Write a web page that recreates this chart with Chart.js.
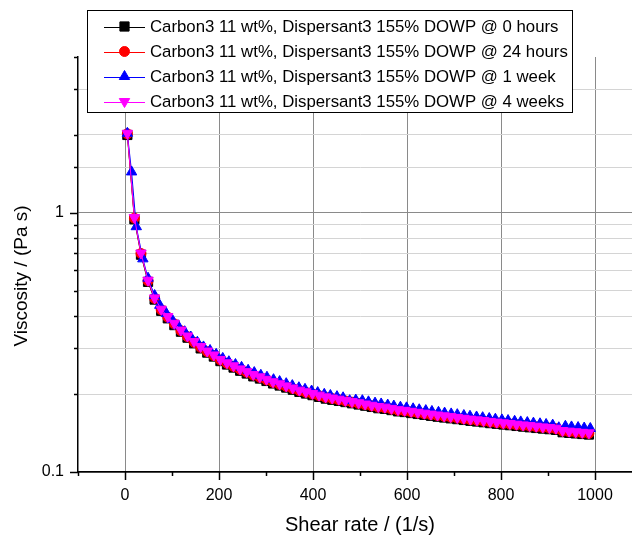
<!DOCTYPE html>
<html>
<head>
<meta charset="utf-8">
<script src="https://cdn.jsdelivr.net/npm/chart.js"></script>
<style>
  html, body { margin: 0; padding: 0; background: #fff; overflow: hidden; }
  #wrap { width: 642px; height: 538px; }
</style>
</head>
<body>
<div id="wrap"><canvas id="c" width="642" height="538" style="width:642px;height:538px"></canvas></div>
<script>
// ---------- data ----------
const seriesLabels = [
  "Carbon3 11 wt%, Dispersant3 155% DOWP @ 0 hours",
  "Carbon3 11 wt%, Dispersant3 155% DOWP @ 24 hours",
  "Carbon3 11 wt%, Dispersant3 155% DOWP @ 1 week",
  "Carbon3 11 wt%, Dispersant3 155% DOWP @ 4 weeks"
];

// shear rates (1/s) for the 0 h, 24 h and 4 week series
const shearRate = [5, 20, 34, 49, 63, 77, 91, 105, 119, 133,
  147, 161, 175, 189, 203, 217, 231, 245, 259, 273,
  287, 301, 315, 329, 343, 357, 371, 385, 399, 413,
  427, 441, 455, 469, 483, 497, 511, 525, 539, 553,
  567, 581, 595, 609, 623, 637, 651, 665, 679, 693,
  707, 721, 735, 749, 763, 777, 791, 805, 819, 833,
  847, 861, 875, 889, 903, 917, 931, 945, 959, 973, 987];

// shear rates (1/s) for the 1 week series
const shearRateWeek1 = [5, 14, 24, 38, 49, 63, 74, 88, 100, 113,
  127, 140, 154, 167, 181, 194, 208, 221, 235, 248,
  262, 275, 289, 302, 316, 329, 343, 356, 370, 383,
  397, 410, 424, 437, 451, 464, 478, 491, 505, 518,
  532, 545, 559, 572, 586, 599, 613, 626, 640, 653,
  667, 680, 694, 707, 721, 734, 748, 761, 775, 788,
  802, 815, 829, 842, 856, 869, 883, 896, 910, 923,
  937, 950, 964, 977, 990];

// viscosity (Pa s)
const visc0h = [2.00, 0.945, 0.690, 0.542, 0.463, 0.419, 0.392, 0.369, 0.348, 0.330,
  0.314, 0.300, 0.289, 0.279, 0.268, 0.260, 0.253, 0.246, 0.240, 0.234,
  0.2295, 0.2246, 0.2197, 0.2157, 0.2118, 0.2078, 0.2039, 0.2009, 0.198, 0.195,
  0.192, 0.190, 0.1881, 0.1862, 0.1842, 0.1822, 0.1803, 0.1783, 0.1763, 0.1753,
  0.1734, 0.1714, 0.1704, 0.1689, 0.1675, 0.1662, 0.1648, 0.1635, 0.1623, 0.1611,
  0.160, 0.1588, 0.1576, 0.1566, 0.1556, 0.1544, 0.1535, 0.1525, 0.1516, 0.1506,
  0.1497, 0.1488, 0.1479, 0.1471, 0.1463, 0.1454, 0.1424, 0.1416, 0.1409, 0.1402, 0.1395];

const visc24h = [2.02, 0.955, 0.697, 0.547, 0.468, 0.423, 0.396, 0.373, 0.351, 0.333,
  0.317, 0.303, 0.2915, 0.2815, 0.2706, 0.2627, 0.2557, 0.2488, 0.2428, 0.2368,
  0.2318, 0.2269, 0.2219, 0.2179, 0.2139, 0.2099, 0.206, 0.203, 0.200, 0.197,
  0.194, 0.192, 0.190, 0.188, 0.186, 0.184, 0.182, 0.180, 0.178, 0.177,
  0.175, 0.173, 0.1721, 0.1706, 0.1692, 0.1679, 0.1665, 0.1652, 0.164, 0.1628,
  0.1616, 0.1604, 0.1592, 0.1582, 0.1572, 0.156, 0.155, 0.154, 0.1531, 0.1521,
  0.1512, 0.1503, 0.1494, 0.1486, 0.1478, 0.1469, 0.1439, 0.1431, 0.1423, 0.1416, 0.1409];

const visc1w = [2.03, 1.44, 0.885, 0.665, 0.56, 0.48, 0.44, 0.409, 0.388, 0.367,
  0.348, 0.332, 0.317, 0.304, 0.2945, 0.2846, 0.2745, 0.2665, 0.260, 0.2535,
  0.247, 0.242, 0.2363, 0.2322, 0.2272, 0.2234, 0.2193, 0.2155, 0.2115, 0.2085,
  0.2054, 0.2026, 0.1995, 0.1974, 0.1954, 0.1934, 0.1885, 0.1895, 0.1885, 0.1866,
  0.1845, 0.1831, 0.1813, 0.1797, 0.1779, 0.1769, 0.1754, 0.1739, 0.1726, 0.1713,
  0.170, 0.1688, 0.1676, 0.1665, 0.1652, 0.1641, 0.1631, 0.1621, 0.1609, 0.1599,
  0.1589, 0.158, 0.157, 0.1561, 0.1552, 0.1544, 0.1535, 0.1526, 0.1517, 0.1482,
  0.1502, 0.1493, 0.1485, 0.1478, 0.1472];

const visc4w = [2.03, 0.96, 0.70, 0.55, 0.47, 0.425, 0.398, 0.375, 0.353, 0.335,
  0.319, 0.305, 0.293, 0.283, 0.272, 0.264, 0.257, 0.250, 0.244, 0.238,
  0.233, 0.228, 0.223, 0.219, 0.215, 0.211, 0.207, 0.204, 0.201, 0.198,
  0.195, 0.193, 0.191, 0.189, 0.187, 0.185, 0.183, 0.181, 0.179, 0.178,
  0.176, 0.174, 0.173, 0.1715, 0.170, 0.1687, 0.1673, 0.166, 0.1648, 0.1636,
  0.1624, 0.1612, 0.160, 0.159, 0.158, 0.1568, 0.1558, 0.1548, 0.1539, 0.1529,
  0.152, 0.1511, 0.1502, 0.1493, 0.1485, 0.1476, 0.1446, 0.1438, 0.143, 0.1423, 0.1416];

const xTickLabels = ["0", "200", "400", "600", "800", "1000"];
const yTickLabels = ["0.1", "1"];

const xTitle = "Shear rate / (1/s)";
const yTitle = "Viscosity / (Pa s)";

// ---------- build ----------
const FONT = "'Liberation Sans', Arial, Helvetica, sans-serif";
Chart.defaults.font.family = FONT;
Chart.defaults.color = "#000";

function pts(xs, ys) { return xs.map((x, i) => ({ x: x, y: ys[i] })); }

const styles = [
  { color: "#000000", pointStyle: "rect", rotation: 0, radius: 6.5 },
  { color: "#ff0000", pointStyle: "circle", rotation: 0, radius: 5 },
  { color: "#0000ff", pointStyle: "triangle", rotation: 0, radius: 6 },
  { color: "#ff00ff", pointStyle: "triangle", rotation: 180, radius: 6 }
];
const drawOrder = [3, 2, 1, 0];
const xsets = [shearRate, shearRate, shearRateWeek1, shearRate];
const ysets = [visc0h, visc24h, visc1w, visc4w];

const datasets = seriesLabels.map((lab, i) => ({
  label: lab,
  data: pts(xsets[i], ysets[i]),
  showLine: true,
  borderColor: styles[i].color,
  backgroundColor: styles[i].color,
  borderWidth: 1,
  pointStyle: styles[i].pointStyle,
  pointRotation: styles[i].rotation,
  pointRadius: styles[i].radius,
  pointBorderWidth: 1,
  pointBorderColor: styles[i].color,
  pointBackgroundColor: styles[i].color,
  tension: 0,
  order: drawOrder[i]
}));

function isDecade(v) {
  const l = Math.log10(v);
  return Math.abs(l - Math.round(l)) < 1e-6;
}

const decor = {
  id: "decor",
  afterDraw(chart) {
    const ctx = chart.ctx;
    const xs = chart.scales.x, ys = chart.scales.y, ca = chart.chartArea;
    ctx.save();
    // tick marks (outward, major longer)
    ctx.strokeStyle = "#000";
    ctx.lineWidth = 1.5;
    xs.ticks.forEach(t => {
      const px = Math.round(xs.getPixelForValue(t.value)) + 0.5;
      const major = Math.abs(t.value % 200) < 1e-6;
      const len = major ? 8 : 4;
      ctx.beginPath();
      ctx.moveTo(px, ca.bottom);
      ctx.lineTo(px, ca.bottom + len);
      ctx.stroke();
    });
    ys.ticks.forEach(t => {
      const py = Math.round(ys.getPixelForValue(t.value)) + 0.5;
      const len = isDecade(t.value) ? 8 : 4;
      ctx.beginPath();
      ctx.moveTo(ca.left, py);
      ctx.lineTo(ca.left - len, py);
      ctx.stroke();
    });

    // y axis title
    ctx.save();
    ctx.translate(22, 276);
    ctx.rotate(-Math.PI / 2);
    ctx.font = "19px " + FONT;
    ctx.fillStyle = "#000";
    ctx.textAlign = "center";
    ctx.textBaseline = "middle";
    ctx.fillText(yTitle, 0, 0);
    ctx.restore();

    // legend box
    const bx = 87, by = 10, bw = 485, bh = 102;
    ctx.fillStyle = "#fff";
    ctx.fillRect(bx, by, bw, bh);
    ctx.strokeStyle = "#000";
    ctx.lineWidth = 1;
    ctx.strokeRect(bx + 0.5, by + 0.5, bw, bh);
    chart.data.datasets.forEach((ds, i) => {
      const y = 26.5 + 25 * i;
      ctx.strokeStyle = ds.borderColor;
      ctx.lineWidth = 1;
      ctx.beginPath();
      ctx.moveTo(104, Math.round(y) + 0.5);
      ctx.lineTo(145, Math.round(y) + 0.5);
      ctx.stroke();
      ctx.fillStyle = ds.pointBackgroundColor;
      ctx.strokeStyle = ds.pointBorderColor;
      if (Chart.helpers && Chart.helpers.drawPoint) {
        Chart.helpers.drawPoint(ctx, {
          pointStyle: ds.pointStyle, rotation: ds.pointRotation,
          radius: ds.pointRadius, borderWidth: 1
        }, 124.5, y);
      }
      ctx.fillStyle = "#000";
      ctx.font = "16.8px " + FONT;
      ctx.textAlign = "left";
      ctx.textBaseline = "middle";
      ctx.fillText(ds.label, 150, y + 1);
    });
    ctx.restore();
  }
};

new Chart(document.getElementById("c"), {
  type: "scatter",
  data: { datasets: datasets },
  plugins: [decor],
  options: {
    responsive: false,
    animation: false,
    events: [],
    layout: { autoPadding: false, padding: { top: 57, left: 0, right: 0, bottom: 0 } },
    plugins: { legend: { display: false }, tooltip: { enabled: false } },
    scales: {
      x: {
        type: "linear",
        min: -100,
        max: 1100,
        afterFit(s) { s.height = 66; s.paddingLeft = 0; s.paddingRight = 0; },
        ticks: {
          stepSize: 100,
          autoSkip: false,
          maxRotation: 0,
          padding: 0,
          font: { size: 16 },
          color: "#000",
          callback(v) {
            const s = String(Math.round(v));
            return xTickLabels.includes(s) ? s : "";
          }
        },
        grid: {
          drawTicks: true,
          tickLength: 14,
          tickColor: "rgba(0,0,0,0)",
          lineWidth: 1,
          color(c) {
            const v = c.tick ? c.tick.value : NaN;
            return (Math.abs(v % 200) < 1e-6 && v >= 0 && v <= 1000) ? "#8a8a8a" : "rgba(0,0,0,0)";
          }
        },
        border: { display: true, color: "#000", width: 1.5 },
        title: {
          display: true,
          text: xTitle,
          font: { size: 20 },
          color: "#000",
          padding: { top: 0, bottom: 1 }
        }
      },
      y: {
        type: "logarithmic",
        min: 0.1,
        max: 4,
        afterFit(s) { s.width = 78; s.paddingTop = 0; s.paddingBottom = 0; },
        ticks: {
          autoSkip: false,
          padding: 14,
          font: { size: 16 },
          color: "#000",
          callback(v) {
            if (!isDecade(v)) return "";
            const s = v < 0.5 ? "0.1" : "1";
            return yTickLabels.includes(s) ? s : "";
          }
        },
        grid: {
          drawTicks: false,
          lineWidth: 1,
          color(c) {
            const v = c.tick ? c.tick.value : NaN;
            if (v > 3.9) return "rgba(0,0,0,0)";
            if (isDecade(v)) return "#8a8a8a";
            return "#d4d4d4";
          }
        },
        border: { display: true, color: "#000", width: 1.5 }
      }
    }
  }
});
</script>
</body>
</html>
